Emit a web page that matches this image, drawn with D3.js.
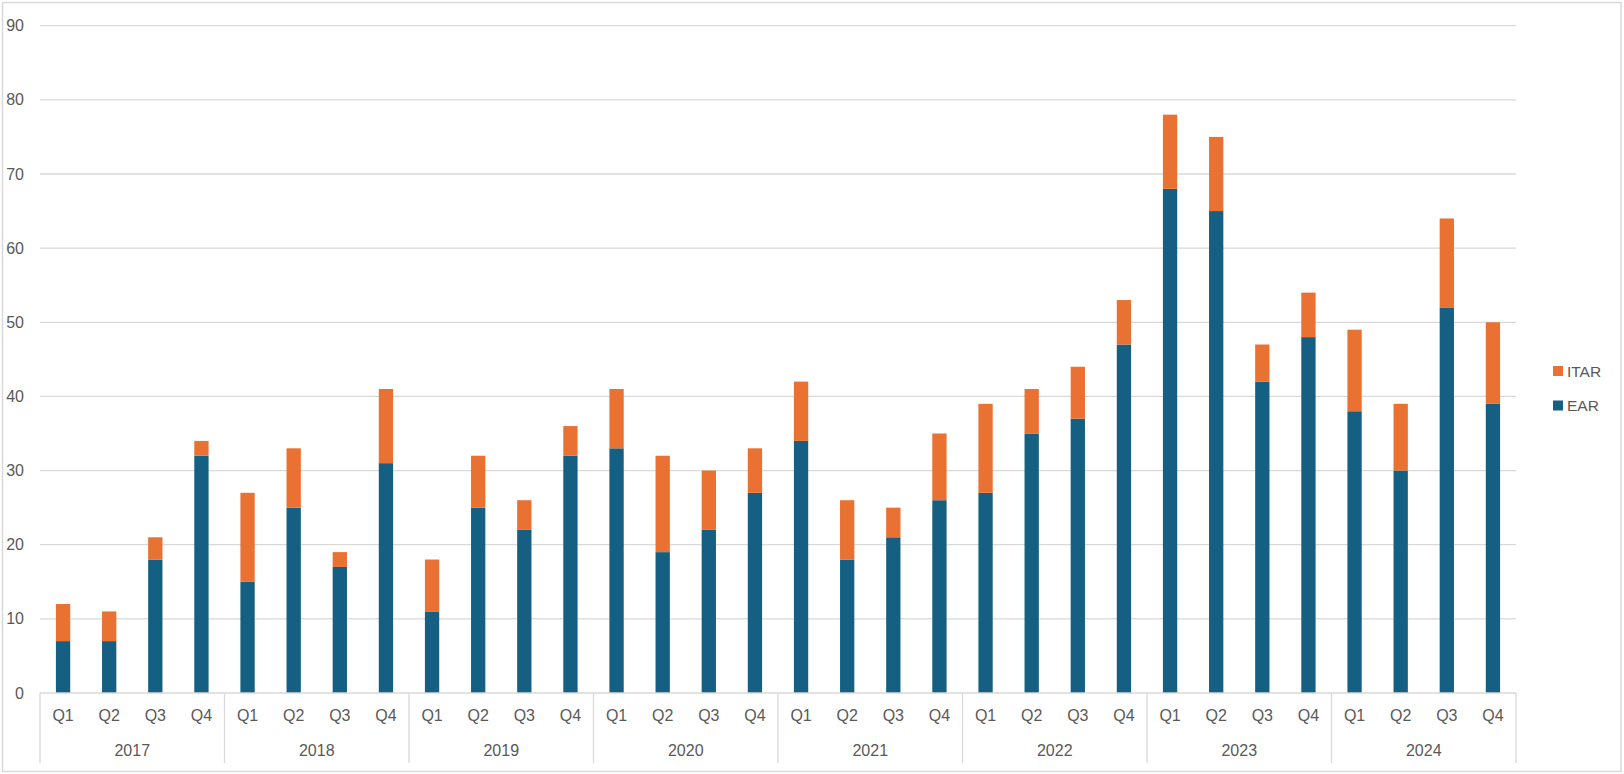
<!DOCTYPE html>
<html><head><meta charset="utf-8">
<script src="https://cdn.jsdelivr.net/npm/d3@7"></script>
<style>body{margin:0;background:#fff;}svg{display:block;font-family:"Liberation Sans",Arial,sans-serif;}</style>
</head><body>
<svg id="chart" width="1624" height="774"></svg>
<script>
const years = ["2017","2018","2019","2020","2021","2022","2023","2024"];
const quarters = ["Q1","Q2","Q3","Q4"];
const earValues = [7,7,18,32, 15,25,17,31, 11,25,22,32, 33,19,22,27, 34,18,21,26, 27,35,37,47, 68,65,42,48, 38,30,52,39];
const itarValues = [5,4,3,2, 12,8,2,10, 7,7,4,4, 8,13,8,6, 8,8,4,9, 12,6,7,6, 10,10,5,6, 11,9,12,11];
const yTicks = [0,10,20,30,40,50,60,70,80,90];
const seriesNames = ["EAR","ITAR"];
const colors = {EAR:"#156082", ITAR:"#E97132"};

(function(){
const data = [];
years.forEach((yr,yi)=>quarters.forEach((q,qi)=>{
  const i = yi*4+qi;
  data.push({key:yr+"-"+q, year:yr, q:q, EAR:earValues[i], ITAR:itarValues[i]});
}));

const svg = d3.select("#chart");
const mLeft = 40, mRight = 1516, mTop = 25.7, mBottom = 693;
const textColor = "#595959", gridColor = "#d9d9d9";
const fs = "16px";

svg.append("rect").attr("x",2.5).attr("y",2.5).attr("width",1618.5).attr("height",769)
  .attr("fill","#fff").attr("stroke",gridColor).attr("stroke-width",1.5);

const x = d3.scaleBand().domain(data.map(d=>d.key)).range([mLeft,mRight]).paddingInner(0.69).paddingOuter(0.345);
const y = d3.scaleLinear().domain([0,90]).range([mBottom,mTop]);

svg.append("g").selectAll("line").data(yTicks.filter(t=>t>0)).join("line")
  .attr("x1",mLeft).attr("x2",mRight).attr("y1",d=>y(d)).attr("y2",d=>y(d))
  .attr("stroke",gridColor).attr("stroke-width",1.3);

const yAxis = d3.axisLeft(y).tickValues(yTicks).tickSize(0).tickPadding(0);
const yg = svg.append("g").attr("transform","translate(24,0)").call(yAxis);
yg.select(".domain").remove();
yg.selectAll("text").attr("fill",textColor).style("font-size",fs).style("font-family","Liberation Sans, Arial, sans-serif");

const stack = d3.stack().keys(seriesNames)(data);
svg.append("g").selectAll("g").data(stack).join("g")
  .attr("fill",d=>colors[d.key])
  .selectAll("rect").data(d=>d).join("rect")
  .attr("x",d=>x(d.data.key)).attr("width",x.bandwidth())
  .attr("y",d=>y(d[1])).attr("height",d=>y(d[0])-y(d[1]));

svg.append("line").attr("x1",mLeft).attr("x2",mRight).attr("y1",mBottom).attr("y2",mBottom)
  .attr("stroke",gridColor).attr("stroke-width",1.3);

const xAxis = d3.axisBottom(x).tickSize(0).tickPadding(0).tickFormat(k=>k.split("-")[1]);
const xg = svg.append("g").attr("transform",`translate(0,${mBottom+16.5})`).call(xAxis);
xg.select(".domain").remove();
xg.selectAll("text").attr("fill",textColor).style("font-size",fs).style("font-family","Liberation Sans, Arial, sans-serif");

const yearX = d3.scaleBand().domain(years).range([mLeft,mRight]);
svg.append("g").selectAll("line").data(d3.range(years.length+1)).join("line")
  .attr("x1",i=>mLeft+i*yearX.step()).attr("x2",i=>mLeft+i*yearX.step())
  .attr("y1",mBottom).attr("y2",763)
  .attr("stroke",gridColor).attr("stroke-width",1.3);
svg.append("g").selectAll("text").data(years).join("text")
  .attr("x",d=>yearX(d)+yearX.bandwidth()/2).attr("y",755.5)
  .attr("text-anchor","middle").attr("fill",textColor).style("font-size",fs)
  .text(d=>d);

const legendItems = ["ITAR","EAR"];
const lg = svg.append("g").selectAll("g").data(legendItems).join("g")
  .attr("transform",(d,i)=>`translate(1553,${366+i*34.5})`);
lg.append("rect").attr("width",10).attr("height",10).attr("fill",d=>colors[d]);
lg.append("text").attr("x",14).attr("y",10.5).attr("fill",textColor).style("font-size","15.5px").text(d=>d);
})();
</script>
</body></html>
